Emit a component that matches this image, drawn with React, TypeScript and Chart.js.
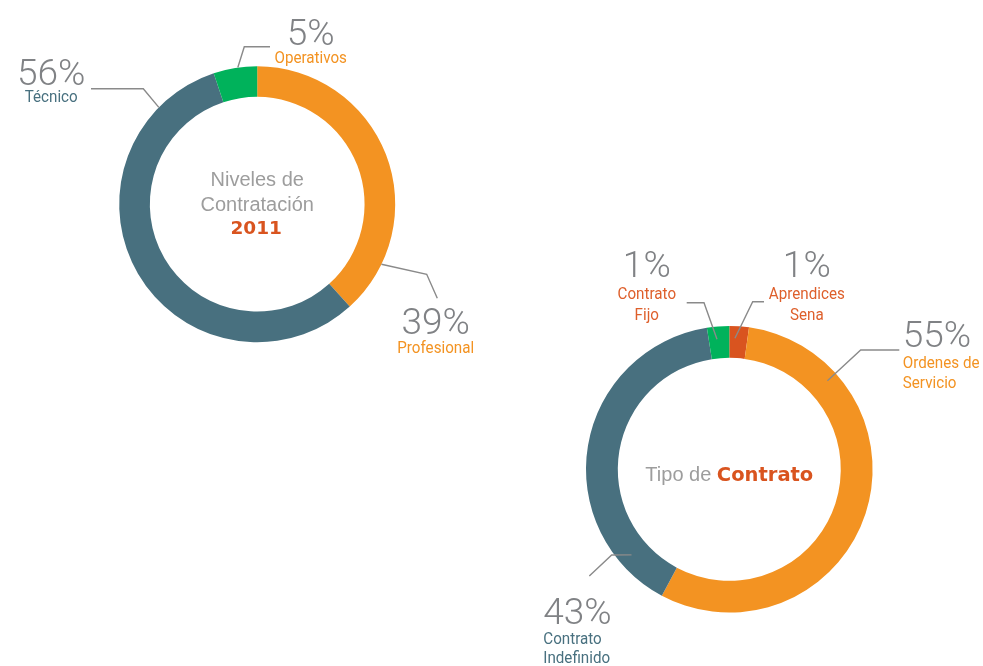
import React, { useEffect, useRef } from 'react';
import { Chart, registerables } from 'chart.js';

Chart.register(...registerables);

// ---------------- DATA ----------------
const levelLabels = ['Profesional', 'Técnico', 'Operativos'];
const levelValues = [38.3, 56.6, 5.1];
const levelPercentText = ['39%', '56%', '5%'];
const levelNameLines = [['Profesional'], ['Técnico'], ['Operativos']];
const levelCenterLines = ['Niveles de', 'Contratación', '2011'];

const contractLabels = ['Aprendices Sena', 'Ordenes de Servicio', 'Contrato Indefinido', 'Contrato Fijo'];
const contractValues = [2.2, 55.6, 39.7, 2.5];
const contractPercentText = ['1%', '55%', '43%', '1%'];
const contractNameLines = [['Aprendices', 'Sena'], ['Ordenes de', 'Servicio'], ['Contrato', 'Indefinido'], ['Contrato', 'Fijo']];
const contractCenterParts = ['Tipo de ', 'Contrato'];

// ---------------- STYLE / LAYOUT ----------------
const W = 983;
const H = 666;
const BLUE = '#48707F';
const ORANGE = '#F39322';
const GREEN = '#00B25B';
const RED = '#D9541F';
const LABEL_RED = '#DE5F2B';
const PCT_GRAY = '#808285';
const LINE_GRAY = '#8A8A8A';
const CENTER_GRAY = '#9D9D9D';

const PCT_FONT = '300 37px Roboto, "Open Sans", sans-serif';
const NAME_FONT = '16.5px Roboto, "Open Sans", sans-serif';
const NAME_SCALE = 0.92;
const CENTER_FONT = '20px "Liberation Sans", Arial, sans-serif';
const BOLD_FONT = 'bold 18.5px "DejaVu Sans", sans-serif';
const BOLD_FONT2 = 'bold 19.5px "DejaVu Sans", sans-serif';

type Callout = {
  at: number; // fraction along the arc
  rf: number; // radial fraction (0 inner, 1 outer)
  elbow: [number, number];
  end: [number, number];
  x: number;
  pctY: number;
  nameY: number;
  lineH: number;
  align: CanvasTextAlign;
  color: string;
};

const levelGeom = { cx: 257.2, cy: 204.2, r: 138 };
const contractGeom = { cx: 729.3, cy: 469.3, r: 143.3 };

const levelCallouts: Callout[] = [
  { at: 0.84, rf: 1, elbow: [169.5, 70.1], end: [180.1, 94.1], x: 178.5, pctY: 130.1, nameY: 149.1, lineH: 20, align: 'center', color: ORANGE },
  { at: 0.867, rf: 1, elbow: [-113.9, -115.5], end: [-166.2, -115.5], x: -206, pctY: -119.2, nameY: -102.5, lineH: 20, align: 'center', color: BLUE },
  { at: 0.56, rf: 1, elbow: [-12.9, -157.5], end: [12.8, -157.5], x: 53.5, pctY: -159.2, nameY: -141.5, lineH: 20, align: 'center', color: ORANGE },
];

const contractCallouts: Callout[] = [
  { at: 0.31, rf: 0.62, elbow: [23.4, -167.6], end: [34.7, -167.6], x: 77.5, pctY: -192, nameY: -170, lineH: 20.7, align: 'center', color: LABEL_RED },
  { at: 0.2, rf: 0.65, elbow: [131.4, -119.3], end: [170, -119.3], x: 173.5, pctY: -122.6, nameY: -101, lineH: 20, align: 'left', color: ORANGE },
  { at: 0.145, rf: 0.58, elbow: [-117.6, 85.7], end: [-140, 106.7], x: -186, pctY: 154.7, nameY: 174.7, lineH: 19.3, align: 'left', color: BLUE },
  { at: 0.4, rf: 0.6, elbow: [-25.3, -166.6], end: [-42.6, -166.6], x: -82.5, pctY: -192, nameY: -170, lineH: 20.7, align: 'center', color: LABEL_RED },
];

function drawScaled(ctx: CanvasRenderingContext2D, text: string, x: number, y: number, align: CanvasTextAlign, sx: number) {
  ctx.save();
  ctx.translate(x, y);
  ctx.scale(sx, 1);
  ctx.textAlign = align;
  ctx.textBaseline = 'alphabetic';
  ctx.fillText(text, 0, 0);
  ctx.restore();
}

function calloutPlugin(callouts: Callout[], pctText: string[], names: string[][], drawCenter: (ctx: CanvasRenderingContext2D, cx: number, cy: number) => void) {
  return {
    id: 'callouts',
    afterDraw(chart: any) {
      const ctx: CanvasRenderingContext2D = chart.ctx;
      const meta = chart.getDatasetMeta(0);
      let cx = 0;
      let cy = 0;
      meta.data.forEach((arc: any, i: number) => {
        const p = arc.getProps(['x', 'y', 'startAngle', 'endAngle', 'innerRadius', 'outerRadius'], true);
        cx = p.x;
        cy = p.y;
        const c = callouts[i];
        if (!c) return;
        const a = p.startAngle + (p.endAngle - p.startAngle) * c.at;
        const rr = p.innerRadius + (p.outerRadius - p.innerRadius) * c.rf;
        const tx = p.x + Math.cos(a) * rr;
        const ty = p.y + Math.sin(a) * rr;
        ctx.save();
        ctx.strokeStyle = LINE_GRAY;
        ctx.lineWidth = 1.4;
        ctx.beginPath();
        ctx.moveTo(tx, ty);
        ctx.lineTo(p.x + c.elbow[0], p.y + c.elbow[1]);
        ctx.lineTo(p.x + c.end[0], p.y + c.end[1]);
        ctx.stroke();
        ctx.fillStyle = PCT_GRAY;
        ctx.font = PCT_FONT;
        drawScaled(ctx, pctText[i], p.x + c.x, p.y + c.pctY, c.align, 1);
        ctx.fillStyle = c.color;
        ctx.font = NAME_FONT;
        names[i].forEach((line, k) => {
          drawScaled(ctx, line, p.x + c.x, p.y + c.nameY + k * c.lineH, c.align, NAME_SCALE);
        });
        ctx.restore();
      });
      drawCenter(ctx, cx, cy);
    },
  };
}

function makeConfig(labels: string[], values: number[], colors: string[], geom: { cx: number; cy: number; r: number }, plugin: any) {
  return {
    type: 'doughnut' as const,
    data: {
      labels,
      datasets: [
        {
          data: values,
          backgroundColor: colors,
          borderWidth: 0,
          hoverOffset: 0,
        },
      ],
    },
    options: {
      responsive: false,
      maintainAspectRatio: false,
      devicePixelRatio: 1,
      animation: false as const,
      cutout: '77.8%',
      layout: {
        padding: {
          left: geom.cx - geom.r,
          top: geom.cy - geom.r,
          right: W - (geom.cx + geom.r),
          bottom: H - (geom.cy + geom.r),
        },
      },
      plugins: {
        legend: { display: false },
        tooltip: { enabled: false },
      },
      events: [],
    },
    plugins: [plugin],
  };
}

function drawLevelCenter(ctx: CanvasRenderingContext2D, cx: number, cy: number) {
  ctx.save();
  ctx.textAlign = 'center';
  ctx.textBaseline = 'alphabetic';
  ctx.fillStyle = CENTER_GRAY;
  ctx.font = CENTER_FONT;
  ctx.fillText(levelCenterLines[0], cx, cy - 18.5);
  ctx.fillText(levelCenterLines[1], cx, cy + 6.5);
  ctx.fillStyle = RED;
  ctx.font = BOLD_FONT;
  ctx.fillText(levelCenterLines[2], cx - 1, cy + 29.8);
  ctx.restore();
}

function drawContractCenter(ctx: CanvasRenderingContext2D, cx: number, cy: number) {
  ctx.save();
  ctx.textBaseline = 'alphabetic';
  ctx.textAlign = 'left';
  ctx.font = CENTER_FONT;
  const w1 = ctx.measureText(contractCenterParts[0]).width;
  ctx.font = BOLD_FONT2;
  const w2 = ctx.measureText(contractCenterParts[1]).width;
  const x0 = cx - (w1 + w2) / 2;
  const y = cy + 11.7;
  ctx.font = CENTER_FONT;
  ctx.fillStyle = CENTER_GRAY;
  ctx.fillText(contractCenterParts[0], x0, y);
  ctx.font = BOLD_FONT2;
  ctx.fillStyle = RED;
  ctx.fillText(contractCenterParts[1], x0 + w1, y);
  ctx.restore();
}

export default function App() {
  const ref1 = useRef<HTMLCanvasElement>(null);
  const ref2 = useRef<HTMLCanvasElement>(null);

  useEffect(() => {
    const c1 = new Chart(
      ref1.current as HTMLCanvasElement,
      makeConfig(
        levelLabels,
        levelValues,
        [ORANGE, BLUE, GREEN],
        levelGeom,
        calloutPlugin(levelCallouts, levelPercentText, levelNameLines, drawLevelCenter)
      ) as any
    );
    const c2 = new Chart(
      ref2.current as HTMLCanvasElement,
      makeConfig(
        contractLabels,
        contractValues,
        [RED, ORANGE, BLUE, GREEN],
        contractGeom,
        calloutPlugin(contractCallouts, contractPercentText, contractNameLines, drawContractCenter)
      ) as any
    );
    return () => {
      c1.destroy();
      c2.destroy();
    };
  }, []);

  const canvasStyle: React.CSSProperties = { position: 'absolute', left: 0, top: 0, width: W, height: H };
  return (
    <div style={{ position: 'fixed', left: 0, top: 0, width: W, height: H, background: '#fff', overflow: 'hidden' }}>
      <canvas ref={ref1} width={W} height={H} style={canvasStyle} />
      <canvas ref={ref2} width={W} height={H} style={canvasStyle} />
    </div>
  );
}
